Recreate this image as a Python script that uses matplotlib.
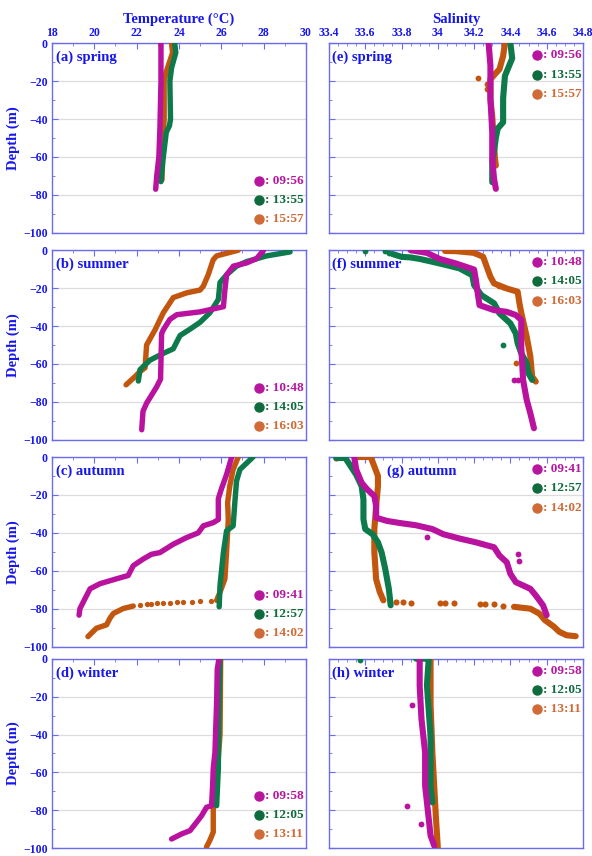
import matplotlib.pyplot as plt
from matplotlib.ticker import MultipleLocator

plt.rcParams['font.family'] = ['Liberation Serif', 'DejaVu Serif']
plt.rcParams['font.weight'] = 'bold'

# ---- data: (value, depth) pairs ----
# temperature, spring
a_0956 = [(23.15, 0), (23.15, -20), (23.1, -45), (23.05, -60), (22.95, -70), (22.9, -77)]
a_1355 = [(23.8, 0), (23.85, -5), (23.65, -13), (23.57, -20), (23.6, -40), (23.55, -43.5),
          (23.4, -47), (23.26, -60), (23.15, -73)]
a_1557 = [(23.65, 0), (23.7, -5), (23.4, -15), (23.3, -20), (23.3, -40), (23.25, -50),
          (23.2, -60), (23.2, -72)]
# temperature, summer
b_1048 = [(28.0, 0), (27.67, -4.4), (27.2, -6.7), (26.57, -8.4), (26.25, -13), (26.17, -21),
          (26.1, -29.8), (25.0, -32.5), (23.9, -34), (23.57, -36.5), (23.26, -42), (23.18, -44),
          (23.13, -68), (22.95, -72), (22.47, -80.7), (22.3, -85), (22.24, -94.7)]
b_1405 = [(29.25, -0.9), (28.14, -3), (27.2, -6), (26.72, -8.4), (26.25, -13), (25.94, -17),
          (25.86, -26), (25.46, -33), (25.0, -38), (24.5, -41.8), (24.05, -45), (23.73, -52),
          (23.26, -54.4), (22.63, -58), (22.16, -63), (22.08, -69)]
b_1603 = [(26.8, 0), (25.78, -3), (25.62, -5), (25.38, -13), (25.15, -19), (25.0, -21),
          (24.36, -22.5), (23.73, -25), (23.26, -33), (22.87, -42), (22.47, -50), (22.4, -62),
          (22.16, -64), (21.92, -66.7), (21.5, -71)]
# temperature, autumn
c_0941 = [(26.49, 0), (26.25, -9.2), (26.0, -17), (25.86, -22), (25.86, -33), (25.62, -34.6),
          (25.15, -36.3), (24.91, -40), (24.36, -42.5), (23.73, -46), (23.1, -50.4), (22.7, -51.3),
          (22.31, -53.8), (21.84, -57.3), (21.6, -62.5), (21.06, -64.2), (20.27, -66.8),
          (19.8, -69.5), (19.56, -74.7), (19.32, -80), (19.28, -83.4)]
c_1257 = [(27.5, 0), (26.88, -6.6), (26.72, -12.7), (26.64, -24), (26.56, -36.3), (26.25, -38.9),
          (26.1, -50.3), (25.94, -67.7), (25.9, -79)]
c_1402 = [(26.8, 0), (26.56, -6.6), (26.4, -15.4), (26.3, -24), (26.33, -33), (26.25, -50),
          (26.17, -64.3), (25.94, -71.3), (25.78, -75.6)]
c_1402_deep = [(21.84, -78.6), (21.37, -79.9), (20.9, -82.5), (20.74, -85), (20.58, -88.5),
               (20.1, -90.3), (19.7, -94.7)]
c_1402_dots = [(25.5, -75.8), (25.0, -76), (24.6, -76.3), (24.2, -76.4), (23.9, -76.6),
               (23.57, -76.8), (23.25, -77), (22.95, -77.2), (22.7, -77.4), (22.47, -77.7),
               (22.15, -78.1)]
# temperature, winter
d_0958 = [(25.89, 0), (25.81, -5.6), (25.78, -23), (25.7, -49.5), (25.62, -58), (25.59, -67),
          (25.54, -77.5), (25.3, -78.4), (25.07, -82.8), (24.83, -86.3), (24.52, -90.7),
          (24.13, -92.4), (23.65, -95.1)]
d_1205 = [(25.94, 0), (25.89, -23), (25.86, -58), (25.78, -77.5)]
d_1311 = [(25.97, 0), (25.94, -40), (25.7, -75.8), (25.62, -79), (25.62, -91.5), (25.46, -95.8),
          (25.3, -99.3)]

# salinity, spring
e_0956 = [(34.28, 0), (34.29, -11.9), (34.29, -29), (34.30, -46.9), (34.30, -61), (34.31, -71.6),
          (34.32, -76.8)]
e_1355 = [(34.40, 0), (34.41, -8), (34.37, -17.2), (34.36, -29), (34.36, -41.7), (34.33, -45),
          (34.32, -49.8), (34.31, -56.8), (34.30, -62), (34.30, -73.3)]
e_1557 = [(34.37, 0), (34.36, -6.7), (34.34, -13.7), (34.315, -16.3), (34.29, -19),
          (34.29, -29.8), (34.30, -38.5), (34.315, -61), (34.32, -64.5)]
e_1557_dots = [(34.22, -18.4), (34.27, -21.5), (34.27, -24)]
# salinity, summer
f_1048 = [(33.85, 0), (33.94, -1.4), (34.01, -4.6), (34.10, -7), (34.20, -10.2), (34.21, -15.8),
          (34.22, -22.8), (34.23, -29), (34.31, -31.6), (34.38, -32.5), (34.43, -34.2),
          (34.46, -36.8), (34.46, -50.9), (34.47, -68.4), (34.49, -79), (34.51, -86), (34.53, -93.9)]
f_1405 = [(33.75, -2), (33.80, -3.5), (33.85, -3.8), (33.90, -4.6), (33.97, -6.1), (34.05, -7.9),
          (34.12, -9.6), (34.19, -13.2), (34.20, -18.4), (34.24, -23.7), (34.31, -28),
          (34.34, -33.3), (34.40, -38.6), (34.43, -43.9), (34.44, -49), (34.46, -54.4),
          (34.49, -59.6), (34.50, -65), (34.52, -68.4)]
f_1405_dots = [(33.60, -0.4), (33.71, -0.6), (33.73, -1.3), (34.36, -50)]
f_1603 = [(34.04, -0.4), (34.10, -0.5), (34.20, -1.4), (34.25, -3.5), (34.27, -8.8), (34.29, -14),
          (34.31, -17.5), (34.38, -20.2), (34.44, -21.9), (34.45, -28), (34.46, -33),
          (34.49, -45.6), (34.51, -56), (34.52, -66.7), (34.54, -69.3)]
f_1603_dots = [(34.34, -19), (34.36, -19.5), (34.43, -59.6)]
f_1048_dots = [(34.42, -68.4), (34.44, -68.2)]
# salinity, autumn
g_0941 = [(33.54, -0.5), (33.55, -6.6), (33.58, -13.6), (33.61, -17), (33.65, -20.6),
          (33.66, -25.9), (33.66, -32), (33.72, -33.7), (33.79, -34.8), (33.88, -36),
          (33.97, -38), (34.03, -40.7), (34.12, -43), (34.21, -45), (34.31, -47.6), (34.34, -52),
          (34.38, -55.5), (34.40, -61.6), (34.43, -66), (34.51, -69.5), (34.54, -73),
          (34.58, -78.2), (34.60, -83.4)]
g_0941_dots = [(33.94, -42), (34.44, -51), (34.45, -55)]
g_1257 = [(33.44, -0.5), (33.49, -0.5), (33.52, -4.9), (33.55, -9.3), (33.58, -15.4),
          (33.59, -22.4), (33.59, -32.8), (33.60, -38), (33.64, -40.7), (33.67, -45),
          (33.69, -50.3), (33.71, -59), (33.73, -69.5), (33.74, -78.2)]
g_1402 = [(33.56, 0), (33.63, 0), (33.65, -4.9), (33.67, -10), (33.67, -15.4), (33.66, -26),
          (33.65, -38), (33.65, -50), (33.66, -64.5), (33.68, -71.2), (33.70, -75.6)]
g_1402_dots = [(33.44, -0.5), (33.77, -76.4), (33.81, -76.6), (33.85, -76.8), (34.01, -77),
               (34.04, -77.1), (34.09, -77.2), (34.23, -77.3), (34.26, -77.4), (34.31, -77.7),
               (34.36, -78.4)]
g_1402_deep = [(34.42, -79), (34.51, -80), (34.56, -82.6), (34.59, -86), (34.64, -89.5),
               (34.67, -92.2), (34.71, -94), (34.76, -94.5)]
# salinity, winter
h_0958 = [(33.90, -0.5), (33.90, -14.4), (33.91, -31.9), (33.93, -49.5), (33.93, -67),
          (33.95, -84.5), (33.96, -93.3), (33.98, -98.6)]
h_0958_dots = [(33.86, -24.5), (33.83, -77.9), (33.91, -87)]
h_1205 = [(33.88, 0), (33.95, 0), (33.94, -14), (33.96, -40.7), (33.96, -67), (33.97, -75.8)]
h_1205_dots = [(33.57, -0.5)]
h_1311 = [(33.96, 0), (33.96, -24), (33.97, -49.5), (33.98, -67), (33.99, -84.5), (34.00, -99.5)]

season_labels = ['(a) spring', '(b) summer', '(c) autumn', '(d) winter']
sal_labels = ['(e) spring', '(f) summer', '(g) autumn', '(h) winter']
times = [['09:56', '13:55', '15:57'], ['10:48', '14:05', '16:03'],
         ['09:41', '12:57', '14:02'], ['09:58', '12:05', '13:11']]
temp_ticks = [18, 20, 22, 24, 26, 28, 30]
sal_ticks = [33.4, 33.6, 33.8, 34.0, 34.2, 34.4, 34.6, 34.8]
sal_ticklabels = ['33.4', '33.6', '33.8', '34', '34.2', '34.4', '34.6', '34.8']
depth_ticks = [0, -20, -40, -60, -80, -100]

temp_lines = [[a_0956, a_1355, a_1557], [b_1048, b_1405, b_1603],
              [c_0941, c_1257, c_1402], [d_0958, d_1205, d_1311]]
sal_lines = [[e_0956, e_1355, e_1557], [f_1048, f_1405, f_1603],
             [g_0941, g_1257, g_1402], [h_0958, h_1205, h_1311]]

MAG, GRN, ORG = '#b8129f', '#0d7a4c', '#c2560f'
LEG = ['#b8159f', '#0e6b3c', '#d06a36']
BLUE = '#1616ee'
SPINE = '#6b6bee'

fig = plt.figure(figsize=(5.92, 8.56), dpi=100)
bottoms = [0.7280, 0.4862, 0.2446, 0.0090]
H = 0.2215


def style(ax, xlim, xticks, minor, show_x, show_y):
    ax.set_xlim(*xlim)
    ax.set_ylim(-100, 0)
    ax.xaxis.tick_top()
    ax.set_xticks(xticks)
    ax.xaxis.set_minor_locator(MultipleLocator(minor))
    ax.set_yticks(depth_ticks)
    ax.yaxis.set_minor_locator(MultipleLocator(10))
    ax.tick_params(which='both', direction='in', colors=SPINE, labelcolor=BLUE,
                   labelsize=8.5, top=True, bottom=False, left=True, right=False)
    ax.tick_params(which='major', length=4, width=0.8, pad=3)
    ax.tick_params(which='minor', length=2.5, width=0.6)
    if not show_x:
        ax.tick_params(labeltop=False)
    if not show_y:
        ax.tick_params(labelleft=False)
    for lab in ax.get_xticklabels() + ax.get_yticklabels():
        lab.set_fontweight('bold')
    for s in ax.spines.values():
        s.set_color(SPINE)
        s.set_linewidth(1.0)
    ax.grid(axis='y', color='#dcdcdc', lw=0.9)
    ax.set_axisbelow(True)


def draw(ax, series, lw):
    cols = [MAG, GRN, ORG]
    for i in [2, 1, 0]:
        xs = [p[0] for p in series[i]]
        ys = [p[1] for p in series[i]]
        ax.plot(xs, ys, color=cols[i], lw=lw, solid_capstyle='round',
                solid_joinstyle='round', zorder=3 + (2 - i))


def dots(ax, pts, color, ms=4.2, z=3):
    ax.plot([p[0] for p in pts], [p[1] for p in pts], 'o', color=color, ms=ms, mec='none', zorder=z)


def legend(ax, labels, x, y0, dy):
    for i, lab in enumerate(labels):
        ax.plot([x], [y0 - i * dy], 'o', color=LEG[i], ms=6.5, transform=ax.transAxes, clip_on=False,
                zorder=10)
        ax.text(x + 0.022, y0 - i * dy, ': ' + lab, color=LEG[i], fontsize=9.5, fontweight='bold',
                transform=ax.transAxes, va='center', ha='left', zorder=10)


axes_l, axes_r = [], []
for r in range(4):
    axl = fig.add_axes([0.0878, bottoms[r], 0.429, H])
    style(axl, (18, 30), temp_ticks, 1, r == 0, True)
    draw(axl, temp_lines[r], 3.9)
    axl.set_ylabel('Depth (m)', color=BLUE, fontsize=10.5, fontweight='bold', labelpad=2)
    axl.text(0.016, 0.925, season_labels[r], transform=axl.transAxes, color=BLUE, fontsize=10.5,
             fontweight='bold', va='center', ha='left')
    legend(axl, times[r], 0.815, 0.274, 0.1)
    if r == 0:
        axl.set_xlabel('Temperature (°C)', color=BLUE, fontsize=10.5, fontweight='bold', labelpad=3)
        axl.xaxis.set_label_position('top')

    axr = fig.add_axes([0.5557, bottoms[r], 0.429, H])
    style(axr, (33.4, 34.8), sal_ticks, 0.05, r == 0, False)
    if r == 0:
        axr.set_xticklabels(sal_ticklabels, fontweight='bold')
        axr.set_xlabel('Salinity', color=BLUE, fontsize=10.5, fontweight='bold', labelpad=3)
        axr.xaxis.set_label_position('top')
    draw(axr, sal_lines[r], 4.4)
    lx = 0.228 if r == 2 else 0.013
    axr.text(lx, 0.925, sal_labels[r], transform=axr.transAxes, color=BLUE, fontsize=10.5,
             fontweight='bold', va='center', ha='left')
    legend(axr, times[r], 0.819, 0.937, 0.102)
    axes_l.append(axl)
    axes_r.append(axr)

axl_c = axes_l[2]
axr_e, axr_f, axr_g, axr_h = axes_r

dots(axl_c, c_1402_dots, ORG, ms=3.8)
axl_c.plot([p[0] for p in c_1402_deep], [p[1] for p in c_1402_deep], color=ORG, lw=3.9,
           solid_capstyle='round', solid_joinstyle='round', zorder=3)
dots(axr_e, e_1557_dots, ORG)
dots(axr_f, f_1405_dots, GRN)
dots(axr_f, f_1603_dots, ORG)
dots(axr_f, f_1048_dots, MAG, z=5)
dots(axr_g, g_0941_dots, MAG, z=5)
dots(axr_g, g_1402_dots, ORG, ms=4.4)
axr_g.plot([p[0] for p in g_1402_deep], [p[1] for p in g_1402_deep], color=ORG, lw=4.4,
           solid_capstyle='round', solid_joinstyle='round', zorder=3)
dots(axr_h, h_0958_dots, MAG, z=5)
dots(axr_h, h_1205_dots, GRN)

fig.savefig('out.png', dpi=100)
